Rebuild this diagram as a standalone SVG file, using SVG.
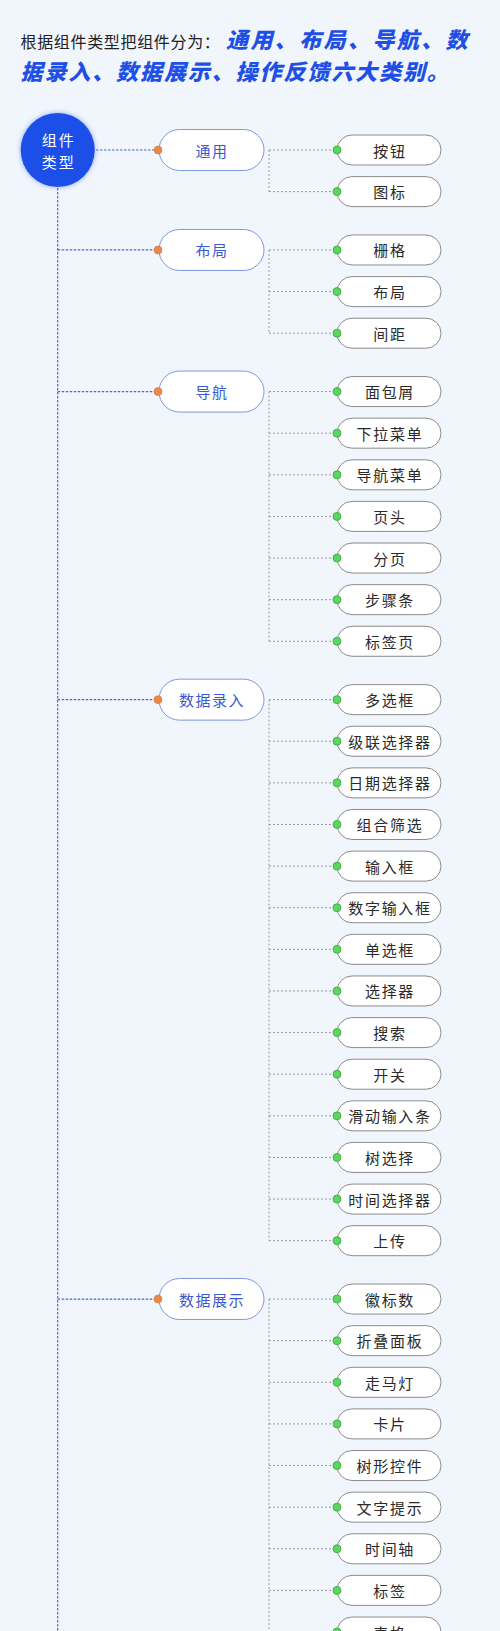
<svg xmlns="http://www.w3.org/2000/svg" width="500" height="1631" viewBox="0 0 500 1631">
<defs>
<filter id="glow" x="-50%" y="-50%" width="200%" height="200%">
<feGaussianBlur in="SourceAlpha" stdDeviation="3"/>
<feFlood flood-color="#3d6cf0" flood-opacity="0.6"/>
<feComposite operator="in" in2="SourceAlpha"/>
<feGaussianBlur stdDeviation="2.5"/>
<feMerge><feMergeNode/><feMergeNode in="SourceGraphic"/></feMerge>
</filter>
</defs>
<style>
text{font-family:"Noto Sans CJK SC","Noto Sans",sans-serif;}
.intro{font-size:16px;fill:#222;letter-spacing:0.67px;}
.hl{font-size:22px;fill:#1f50e6;font-weight:900;font-style:italic;letter-spacing:2.4px;}
.trunk{stroke:#4a68d2;stroke-width:1.2;stroke-dasharray:2.5 1.5;fill:none;}
.branch{stroke:#9a9a9a;stroke-width:1;stroke-dasharray:2 2;fill:none;}
.pnode rect{fill:#fff;stroke:#8098dc;stroke-width:1;}
.pnode text{font-size:15px;fill:#3a5bcf;text-anchor:middle;dominant-baseline:central;letter-spacing:1.5px;}
.cnode rect{fill:#fff;stroke:#8c8c8c;stroke-width:1;}
.cnode text{font-size:15px;fill:#2a2a2a;text-anchor:middle;dominant-baseline:central;letter-spacing:1.7px;}
.odot{fill:#e8894a;stroke:#d0733a;stroke-width:0.5;}
.gdot{fill:#5bd65e;stroke:#3aa540;stroke-width:0.8;}
.root text{font-size:15px;fill:#fff;text-anchor:middle;dominant-baseline:central;letter-spacing:2px;}
</style>
<rect x="0" y="0" width="500" height="1631" fill="#f1f5fc"/>
<g id="title">
<text x="20.5" y="48" class="intro">根据组件类型把组件分为：</text>
<text x="226" y="48" class="hl">通用、布局、导航、数</text>
<text x="20.5" y="80" class="hl" style="letter-spacing:1.9px">据录入、数据展示、操作反馈六大类别。</text>
</g>
<g id="connectors">
<path class="trunk" d="M57.7 188 V1631"/>
<path class="trunk" d="M96 150 H154"/>
<path class="trunk" d="M57.7 249.97 H154"/>
<path class="trunk" d="M57.7 391.56 H154"/>
<path class="trunk" d="M57.7 699.63 H154"/>
<path class="trunk" d="M57.7 1299.04 H154"/>
<path class="branch" d="M269 150 V191.62 M269 150 H333 M269 191.62 H333"/>
<path class="branch" d="M269 249.97 V333.21 M269 249.97 H333 M269 291.59 H333 M269 333.21 H333"/>
<path class="branch" d="M269 391.56 V641.28 M269 391.56 H333 M269 433.18 H333 M269 474.8 H333 M269 516.42 H333 M269 558.04 H333 M269 599.66 H333 M269 641.28 H333"/>
<path class="branch" d="M269 699.63 V1240.69 M269 699.63 H333 M269 741.25 H333 M269 782.87 H333 M269 824.49 H333 M269 866.11 H333 M269 907.73 H333 M269 949.35 H333 M269 990.97 H333 M269 1032.59 H333 M269 1074.21 H333 M269 1115.83 H333 M269 1157.45 H333 M269 1199.07 H333 M269 1240.69 H333"/>
<path class="branch" d="M269 1299.04 V1631 M269 1299.04 H333 M269 1340.66 H333 M269 1382.28 H333 M269 1423.9 H333 M269 1465.52 H333 M269 1507.14 H333 M269 1548.76 H333 M269 1590.38 H333 M269 1632 H333"/>
</g>
<g id="root" class="root">
<circle cx="57.7" cy="150" r="37" fill="#1e4fe8" filter="url(#glow)"/>
<text x="58.7" y="139.5">组件</text>
<text x="58.7" y="161.5">类型</text>
</g>
<g id="p1" class="pnode"><rect x="159" y="129.5" width="105" height="41" rx="20.5"/><text x="212" y="150">通用</text><circle class="odot" cx="158" cy="150" r="4"/></g>
<g id="p2" class="pnode"><rect x="159" y="229.47" width="105" height="41" rx="20.5"/><text x="212" y="249.97">布局</text><circle class="odot" cx="158" cy="249.97" r="4"/></g>
<g id="p3" class="pnode"><rect x="159" y="371.06" width="105" height="41" rx="20.5"/><text x="212" y="391.56">导航</text><circle class="odot" cx="158" cy="391.56" r="4"/></g>
<g id="p4" class="pnode"><rect x="159" y="679.13" width="105" height="41" rx="20.5"/><text x="212" y="699.63">数据录入</text><circle class="odot" cx="158" cy="699.63" r="4"/></g>
<g id="p5" class="pnode"><rect x="159" y="1278.54" width="105" height="41" rx="20.5"/><text x="212" y="1299.04">数据展示</text><circle class="odot" cx="158" cy="1299.04" r="4"/></g>
<g id="c1" class="cnode"><rect x="337" y="135" width="104" height="30" rx="15"/><text x="390" y="150">按钮</text><circle class="gdot" cx="337" cy="150" r="4"/></g>
<g id="c2" class="cnode"><rect x="337" y="176.62" width="104" height="30" rx="15"/><text x="390" y="191.62">图标</text><circle class="gdot" cx="337" cy="191.62" r="4"/></g>
<g id="c3" class="cnode"><rect x="337" y="234.97" width="104" height="30" rx="15"/><text x="390" y="249.97">栅格</text><circle class="gdot" cx="337" cy="249.97" r="4"/></g>
<g id="c4" class="cnode"><rect x="337" y="276.59" width="104" height="30" rx="15"/><text x="390" y="291.59">布局</text><circle class="gdot" cx="337" cy="291.59" r="4"/></g>
<g id="c5" class="cnode"><rect x="337" y="318.21" width="104" height="30" rx="15"/><text x="390" y="333.21">间距</text><circle class="gdot" cx="337" cy="333.21" r="4"/></g>
<g id="c6" class="cnode"><rect x="337" y="376.56" width="104" height="30" rx="15"/><text x="390" y="391.56">面包屑</text><circle class="gdot" cx="337" cy="391.56" r="4"/></g>
<g id="c7" class="cnode"><rect x="337" y="418.18" width="104" height="30" rx="15"/><text x="390" y="433.18">下拉菜单</text><circle class="gdot" cx="337" cy="433.18" r="4"/></g>
<g id="c8" class="cnode"><rect x="337" y="459.8" width="104" height="30" rx="15"/><text x="390" y="474.8">导航菜单</text><circle class="gdot" cx="337" cy="474.8" r="4"/></g>
<g id="c9" class="cnode"><rect x="337" y="501.42" width="104" height="30" rx="15"/><text x="390" y="516.42">页头</text><circle class="gdot" cx="337" cy="516.42" r="4"/></g>
<g id="c10" class="cnode"><rect x="337" y="543.04" width="104" height="30" rx="15"/><text x="390" y="558.04">分页</text><circle class="gdot" cx="337" cy="558.04" r="4"/></g>
<g id="c11" class="cnode"><rect x="337" y="584.66" width="104" height="30" rx="15"/><text x="390" y="599.66">步骤条</text><circle class="gdot" cx="337" cy="599.66" r="4"/></g>
<g id="c12" class="cnode"><rect x="337" y="626.28" width="104" height="30" rx="15"/><text x="390" y="641.28">标签页</text><circle class="gdot" cx="337" cy="641.28" r="4"/></g>
<g id="c13" class="cnode"><rect x="337" y="684.63" width="104" height="30" rx="15"/><text x="390" y="699.63">多选框</text><circle class="gdot" cx="337" cy="699.63" r="4"/></g>
<g id="c14" class="cnode"><rect x="337" y="726.25" width="104" height="30" rx="15"/><text x="390" y="741.25">级联选择器</text><circle class="gdot" cx="337" cy="741.25" r="4"/></g>
<g id="c15" class="cnode"><rect x="337" y="767.87" width="104" height="30" rx="15"/><text x="390" y="782.87">日期选择器</text><circle class="gdot" cx="337" cy="782.87" r="4"/></g>
<g id="c16" class="cnode"><rect x="337" y="809.49" width="104" height="30" rx="15"/><text x="390" y="824.49">组合筛选</text><circle class="gdot" cx="337" cy="824.49" r="4"/></g>
<g id="c17" class="cnode"><rect x="337" y="851.11" width="104" height="30" rx="15"/><text x="390" y="866.11">输入框</text><circle class="gdot" cx="337" cy="866.11" r="4"/></g>
<g id="c18" class="cnode"><rect x="337" y="892.73" width="104" height="30" rx="15"/><text x="390" y="907.73">数字输入框</text><circle class="gdot" cx="337" cy="907.73" r="4"/></g>
<g id="c19" class="cnode"><rect x="337" y="934.35" width="104" height="30" rx="15"/><text x="390" y="949.35">单选框</text><circle class="gdot" cx="337" cy="949.35" r="4"/></g>
<g id="c20" class="cnode"><rect x="337" y="975.97" width="104" height="30" rx="15"/><text x="390" y="990.97">选择器</text><circle class="gdot" cx="337" cy="990.97" r="4"/></g>
<g id="c21" class="cnode"><rect x="337" y="1017.59" width="104" height="30" rx="15"/><text x="390" y="1032.59">搜索</text><circle class="gdot" cx="337" cy="1032.59" r="4"/></g>
<g id="c22" class="cnode"><rect x="337" y="1059.21" width="104" height="30" rx="15"/><text x="390" y="1074.21">开关</text><circle class="gdot" cx="337" cy="1074.21" r="4"/></g>
<g id="c23" class="cnode"><rect x="337" y="1100.83" width="104" height="30" rx="15"/><text x="390" y="1115.83">滑动输入条</text><circle class="gdot" cx="337" cy="1115.83" r="4"/></g>
<g id="c24" class="cnode"><rect x="337" y="1142.45" width="104" height="30" rx="15"/><text x="390" y="1157.45">树选择</text><circle class="gdot" cx="337" cy="1157.45" r="4"/></g>
<g id="c25" class="cnode"><rect x="337" y="1184.07" width="104" height="30" rx="15"/><text x="390" y="1199.07">时间选择器</text><circle class="gdot" cx="337" cy="1199.07" r="4"/></g>
<g id="c26" class="cnode"><rect x="337" y="1225.69" width="104" height="30" rx="15"/><text x="390" y="1240.69">上传</text><circle class="gdot" cx="337" cy="1240.69" r="4"/></g>
<g id="c27" class="cnode"><rect x="337" y="1284.04" width="104" height="30" rx="15"/><text x="390" y="1299.04">徽标数</text><circle class="gdot" cx="337" cy="1299.04" r="4"/></g>
<g id="c28" class="cnode"><rect x="337" y="1325.66" width="104" height="30" rx="15"/><text x="390" y="1340.66">折叠面板</text><circle class="gdot" cx="337" cy="1340.66" r="4"/></g>
<g id="c29" class="cnode"><rect x="337" y="1367.28" width="104" height="30" rx="15"/><text x="390" y="1382.28">走马灯</text><circle class="gdot" cx="337" cy="1382.28" r="4"/></g>
<g id="c30" class="cnode"><rect x="337" y="1408.9" width="104" height="30" rx="15"/><text x="390" y="1423.9">卡片</text><circle class="gdot" cx="337" cy="1423.9" r="4"/></g>
<g id="c31" class="cnode"><rect x="337" y="1450.52" width="104" height="30" rx="15"/><text x="390" y="1465.52">树形控件</text><circle class="gdot" cx="337" cy="1465.52" r="4"/></g>
<g id="c32" class="cnode"><rect x="337" y="1492.14" width="104" height="30" rx="15"/><text x="390" y="1507.14">文字提示</text><circle class="gdot" cx="337" cy="1507.14" r="4"/></g>
<g id="c33" class="cnode"><rect x="337" y="1533.76" width="104" height="30" rx="15"/><text x="390" y="1548.76">时间轴</text><circle class="gdot" cx="337" cy="1548.76" r="4"/></g>
<g id="c34" class="cnode"><rect x="337" y="1575.38" width="104" height="30" rx="15"/><text x="390" y="1590.38">标签</text><circle class="gdot" cx="337" cy="1590.38" r="4"/></g>
<g id="c35" class="cnode"><rect x="337" y="1617" width="104" height="30" rx="15"/><text x="390" y="1632">表格</text><circle class="gdot" cx="337" cy="1632" r="4"/></g>
</svg>
